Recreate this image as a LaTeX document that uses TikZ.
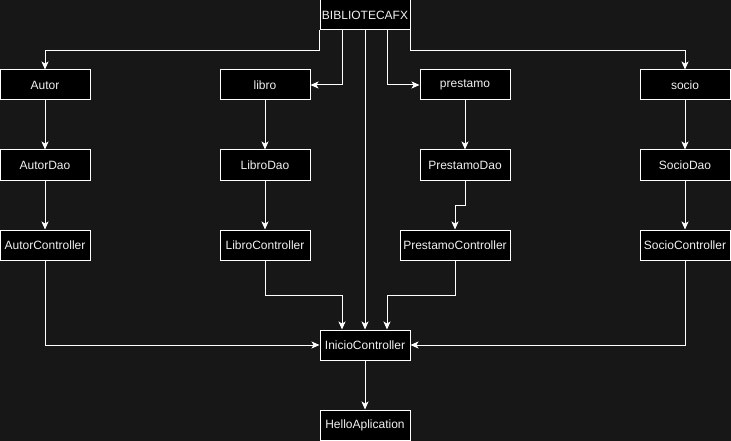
\documentclass[tikz,border=0pt]{standalone}
\usepackage{fontspec}
\setmainfont{Liberation Sans}
\usetikzlibrary{arrows.meta}
\definecolor{bg}{HTML}{171717}
\definecolor{txt}{HTML}{F0F0F0}
\begin{document}
\begin{tikzpicture}[x=1pt,y=-1pt,
  box/.style={draw=white, fill=black, line width=1pt, minimum width=90pt, minimum height=30pt,
    inner sep=0pt, text=txt, font=\fontsize{12}{14}\selectfont},
  arr/.style={draw=white, line width=1pt, -{Stealth[length=8pt,width=7pt,inset=2pt]}}]
\useasboundingbox (0,0) rectangle (731,441);
\fill[bg] (0,0) rectangle (731,441);
\node[box] (b) at (365,15) {BIBLIOTECAFX};
\node[box] (autor) at (45,85) {Autor};
\node[box] (libro) at (265,85) {libro};
\node[box] (prestamo) at (465,85) {prestamo};
\node[box] (socio) at (685,85) {socio};
\node[box] (autordao) at (45,165) {AutorDao};
\node[box] (librodao) at (265,165) {LibroDao};
\node[box] (prestamodao) at (465,165) {PrestamoDao};
\node[box] (sociodao) at (685,165) {SocioDao};
\node[box] (autorc) at (45,245) {AutorController};
\node[box] (libroc) at (265,245) {LibroController};
\node[box, minimum width=110pt] (prestamoc) at (455,245) {PrestamoController};
\node[box] (socioc) at (685,245) {SocioController};
\node[box] (inicio) at (365,345) {InicioController};
\node[box] (hello) at (365,425) {HelloAplication};
\draw[arr] (b.south west) -- ++(0,20) -| (autor.north);
\draw[arr] (b.south east) -- ++(0,20) -| (socio.north);
\draw[arr] ([xshift=-23pt]b.south) |- (libro.east);
\draw[arr] ([xshift=22pt]b.south) |- (prestamo.west);
\draw[arr] (b.south) -- (inicio.north);
\draw[arr] (autor) -- (autordao);
\draw[arr] (autordao) -- (autorc);
\draw[arr] (libro) -- (librodao);
\draw[arr] (librodao) -- (libroc);
\draw[arr] (prestamo) -- (prestamodao);
\draw[arr] (prestamodao.south) -- ++(0,25) -| (prestamoc.north);
\draw[arr] (socio) -- (sociodao);
\draw[arr] (sociodao) -- (socioc);
\draw[arr] (libroc.south) -- ++(0,35) -| ([xshift=-23pt]inicio.north);
\draw[arr] (prestamoc.south) -- ++(0,35) -| ([xshift=22pt]inicio.north);
\draw[arr] (autorc.south) |- (inicio.west);
\draw[arr] (socioc.south) |- (inicio.east);
\draw[arr] (inicio) -- (hello);
\end{tikzpicture}
\end{document}
